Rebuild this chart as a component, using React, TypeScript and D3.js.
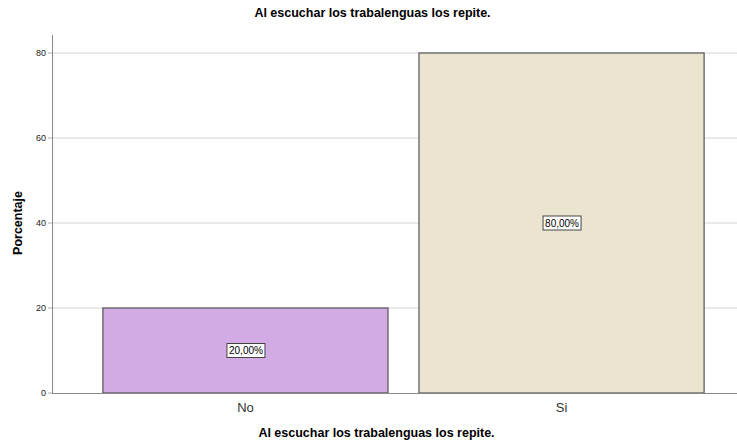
import React from "react";
import * as d3 from "d3";

const categories = ["No", "Si"];
const values = [20, 80];
const valueLabels = ["20,00%", "80,00%"];
const yTicks = [0, 20, 40, 60, 80];
const colors = ["#d2aae4", "#ebe4d0"];
const title = "Al escuchar los trabalenguas los repite.";
const yTitle = "Porcentaje";

const W = 737;
const H = 441;
const FONT = "Arial, 'Liberation Sans', sans-serif";

export default function App() {
  const x = d3.scaleBand<string>().domain(categories).range([52, 755]).paddingInner(0.098).paddingOuter(0.161);
  const y = d3.scaleLinear().domain([0, 80]).range([393, 53]);
  return (
    <div style={{ position: "absolute", left: 0, top: 0 }}>
      <svg width={W} height={H} style={{ display: "block", background: "#fff" }} fontFamily={FONT}>
        <text x={W / 2 + 4} y={17} textAnchor="middle" fontSize={12.5} fontWeight="bold" fill="#000">{title}</text>
        {yTicks.map((t) => (
          <g key={t}>
            {t > 0 && <line x1={52} x2={W} y1={y(t)} y2={y(t)} stroke="#d4d4d4" strokeWidth={1} />}
            <line x1={48} x2={52} y1={y(t)} y2={y(t)} stroke="#aaa" />
            <text x={46} y={y(t) + 3} textAnchor="end" fontSize={9} fill="#222">{t}</text>
          </g>
        ))}
        {categories.map((c, i) => {
          const bx = x(c)!;
          const bw = x.bandwidth();
          const by = y(values[i]);
          const cx = bx + bw / 2;
          const cy = (by + y(0)) / 2;
          return (
            <g key={c}>
              <rect x={bx} y={by} width={bw} height={y(0) - by} fill={colors[i]} stroke="#555" strokeWidth={1.2} />
              <rect x={cx - 18.5} y={cy - 7} width={38} height={14} fill="#fff" stroke="#444" strokeWidth={1} />
              <text x={cx + 0.5} y={cy + 3.5} textAnchor="middle" fontSize={10} fill="#000">{valueLabels[i]}</text>
              <text x={cx} y={412} textAnchor="middle" fontSize={13} fill="#333">{c}</text>
            </g>
          );
        })}
        <line x1={52} x2={W} y1={393.5} y2={393.5} stroke="#888" strokeWidth={1} />
        <line x1={52.5} x2={52.5} y1={35} y2={394} stroke="#888" strokeWidth={1} />
        <text transform={`translate(22,223) rotate(-90)`} textAnchor="middle" fontSize={12.5} fontWeight="bold" fill="#000">{yTitle}</text>
        <text x={W / 2 + 8} y={437} textAnchor="middle" fontSize={12.5} fontWeight="bold" fill="#000">{title}</text>
      </svg>
    </div>
  );
}
